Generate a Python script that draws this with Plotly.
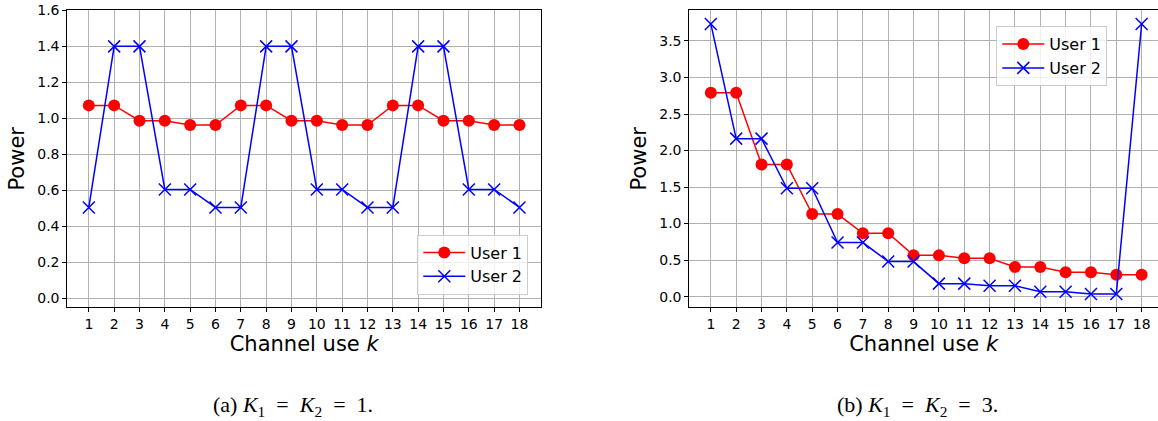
import plotly.graph_objects as go

# ---------------- data ----------------
channel_use = [1, 2, 3, 4, 5, 6, 7, 8, 9, 10, 11, 12, 13, 14, 15, 16, 17, 18]

# (a) K1 = K2 = 1
a_user1 = [1.072, 1.072, 0.987, 0.987, 0.963, 0.963, 1.072, 1.072, 0.987,
           0.987, 0.963, 0.963, 1.072, 1.072, 0.987, 0.987, 0.963, 0.963]
a_user2 = [0.505, 1.400, 1.400, 0.605, 0.605, 0.505, 0.505, 1.400, 1.400,
           0.605, 0.605, 0.505, 0.505, 1.400, 1.400, 0.605, 0.605, 0.505]

# (b) K1 = K2 = 3
b_user1 = [2.79, 2.79, 1.81, 1.81, 1.13, 1.13, 0.868, 0.868, 0.565,
           0.565, 0.525, 0.525, 0.407, 0.407, 0.334, 0.334, 0.30, 0.30]
b_user2 = [3.733, 2.163, 2.163, 1.484, 1.484, 0.74, 0.74, 0.48, 0.48,
           0.178, 0.178, 0.15, 0.15, 0.068, 0.068, 0.037, 0.037, 3.733]

series_names = ["User 1", "User 2"]
x_title = "Channel use <i>k</i>"
y_title = "Power"
EQ = "\u2002=\u2002"
captions = ["(a) <i>K</i><sub>1</sub>" + EQ + "<i>K</i><sub>2</sub>" + EQ + "1.",
            "(b) <i>K</i><sub>1</sub>" + EQ + "<i>K</i><sub>2</sub>" + EQ + "3."]

# ---------------- figure ----------------
W, H = 1158, 421
FONT = "DejaVu Sans"
RED = "#ff0000"
BLUE = "#0000ff"

fig = go.Figure()


def add_pair(u1, u2, xa, ya, legend):
    fig.add_trace(go.Scatter(
        x=channel_use, y=u1, name=series_names[0], mode="lines+markers",
        line=dict(color=RED, width=1.5),
        marker=dict(symbol="circle", size=12, color=RED),
        xaxis=xa, yaxis=ya, legend=legend))
    fig.add_trace(go.Scatter(
        x=channel_use, y=u2, name=series_names[1], mode="lines+markers",
        line=dict(color=BLUE, width=1.5),
        marker=dict(symbol="x-thin", size=12, color=BLUE,
                    line=dict(color=BLUE, width=1.5)),
        xaxis=xa, yaxis=ya, legend=legend))


add_pair(a_user1, a_user2, "x", "y", "legend")
add_pair(b_user1, b_user2, "x2", "y2", "legend2")


def px(p):
    return p / W


def py(p):
    return (H - p) / H


y_dom = [py(307.3), py(10.3)]

common_x = dict(
    tickmode="array", tickvals=channel_use, ticktext=[str(v) for v in channel_use],
    ticks="outside", ticklen=4, tickwidth=1, tickcolor="black",
    showgrid=True, gridcolor="#b0b0b0", gridwidth=1, zeroline=False,
    showline=True, linecolor="black", linewidth=1, automargin=False,
    tickfont=dict(family=FONT, size=14, color="black"),
    title=dict(text=x_title, font=dict(family=FONT, size=21, color="black"), standoff=2),
)
common_y = dict(
    ticks="outside", ticklen=4, tickwidth=1, tickcolor="black",
    showgrid=True, gridcolor="#b0b0b0", gridwidth=1, zeroline=False,
    showline=True, linecolor="black", linewidth=1, tickformat=".1f", automargin=False,
    tickfont=dict(family=FONT, size=14, color="black"),
    title=dict(text=y_title, font=dict(family=FONT, size=21, color="black"), standoff=6),
)

legend_common = dict(
    bgcolor="rgba(255,255,255,0.8)", bordercolor="#cccccc", borderwidth=1,
    font=dict(family=FONT, size=16, color="black"), tracegroupgap=0, itemwidth=42,
)

fig.update_layout(
    width=W, height=H,
    margin=dict(l=0, r=0, t=0, b=0, pad=0, autoexpand=False),
    paper_bgcolor="white", plot_bgcolor="white",
    font=dict(family=FONT, size=14, color="black"),
    xaxis=dict(common_x, domain=[px(67.3), px(541.0)], range=[0.15, 18.85], mirror=True, anchor="y"),
    yaxis=dict(common_y, domain=y_dom, range=[-0.05, 1.6003], dtick=0.2, tick0=0, mirror=True, anchor="x"),
    xaxis2=dict(common_x, domain=[px(689.3), 1.0], range=[0.15, 18.645], mirror=True, anchor="y2"),
    yaxis2=dict(common_y, domain=y_dom, range=[-0.146, 3.92], dtick=0.5, tick0=0, mirror=False, anchor="x2"),
    legend=dict(legend_common, x=px(528.3), y=py(264.5), xanchor="right", yanchor="middle"),
    legend2=dict(legend_common, x=px(1107.3), y=py(56.2), xanchor="right", yanchor="middle"),
    showlegend=True,
)

cap_font = dict(family="Liberation Serif", size=22, color="black")
fig.add_annotation(text=captions[0], x=px(293), y=py(406), xref="paper", yref="paper",
                   showarrow=False, font=cap_font, xanchor="center", yanchor="middle")
fig.add_annotation(text=captions[1], x=px(917), y=py(406), xref="paper", yref="paper",
                   showarrow=False, font=cap_font, xanchor="center", yanchor="middle")

fig.write_html("out.html", config={"displayModeBar": False},
               post_script="document.body.style.margin='0';document.body.style.overflow='hidden';")
